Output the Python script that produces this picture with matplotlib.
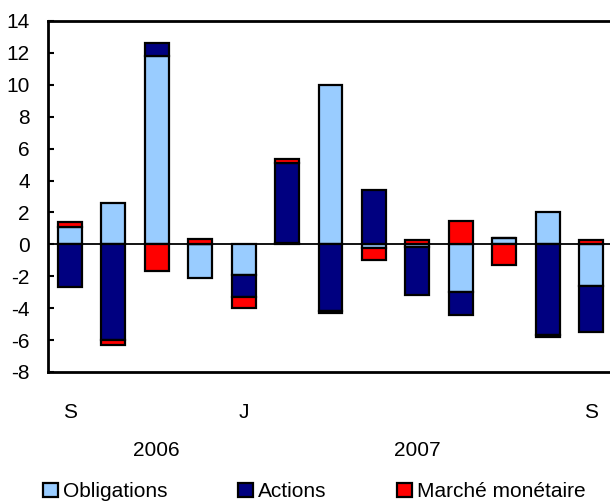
import numpy as np
import matplotlib
matplotlib.use("Agg")
import matplotlib.pyplot as plt
from matplotlib.patches import Patch
from matplotlib.transforms import blended_transform_factory

plt.rcParams['font.family'] = ['Liberation Sans', 'DejaVu Sans']
plt.rcParams['axes.unicode_minus'] = False

# données (milliards de dollars)
mois = ["S", "O", "N", "D", "J", "F", "M", "A", "M", "J", "J", "A", "S"]
etiquettes = ["S", "", "", "", "J", "", "", "", "", "", "", "", "S"]
obligations = [1.1, 2.6, 11.8, -2.1, -1.9, 0.1, 10.0, -0.2, -0.15, -3.0, 0.4, 2.0, -2.6]
actions = [-2.7, -6.0, 0.8, 0.0, -1.4, 5.0, -4.2, 3.4, -3.0, -1.4, 0.0, -5.7, -2.9]
marche = [0.3, -0.3, -1.7, 0.35, -0.7, 0.25, -0.1, -0.75, 0.3, 1.45, -1.3, -0.1, 0.3]
annees = ["2006", "2007"]
annees_pos = [2, 8]

series = [("Obligations", obligations, "#99ccff"),
          ("Actions", actions, "#000080"),
          ("Marché monétaire", marche, "#ff0000")]

fig = plt.figure(figsize=(6.1, 5.01), dpi=100)
ax = fig.add_axes([48 / 610, 1 - 372 / 501, 565 / 610, 351 / 501])

x = np.arange(len(mois))
pos = np.zeros(len(mois))
neg = np.zeros(len(mois))
for nom, vals, coul in series:
    v = np.array(vals)
    bas = np.where(v >= 0, pos, neg)
    ax.bar(x, v, bottom=bas, width=0.55, color=coul, edgecolor="black",
           linewidth=1.6, zorder=3)
    pos = pos + np.where(v >= 0, v, 0)
    neg = neg + np.where(v < 0, v, 0)

ax.axhline(0, color="black", linewidth=1.3, zorder=2)

ax.set_xlim(-0.5, 12.5)
ax.set_ylim(-8, 14)
ax.set_yticks(range(-8, 15, 2))
ax.set_xticks(x)
ax.set_xticklabels(etiquettes)
ax.tick_params(axis="x", length=0, pad=22, labelsize=15)
ax.tick_params(axis="y", direction="in", length=4, width=1.5, pad=13, labelsize=15)
for s in ["top", "left", "bottom"]:
    ax.spines[s].set_linewidth(2)
ax.spines["right"].set_visible(False)

# années sous l'axe
trans = blended_transform_factory(ax.transData, fig.transFigure)
for a, p in zip(annees, annees_pos):
    ax.text(p, 1 - 450.7 / 501, a, transform=trans, ha="center", va="center", fontsize=15)

poignees = [Patch(facecolor=c, edgecolor="black", linewidth=1.6, label=n) for n, v, c in series]
fig.legend(handles=poignees, loc="center left", bbox_to_anchor=(43 / 610, 1 - 491.7 / 501),
           ncol=3, frameon=False, fontsize=15, handlelength=0.7, handleheight=0.7,
           handletextpad=0.25, columnspacing=3.4, borderpad=0, borderaxespad=0)

fig.savefig("out.png", dpi=100)
